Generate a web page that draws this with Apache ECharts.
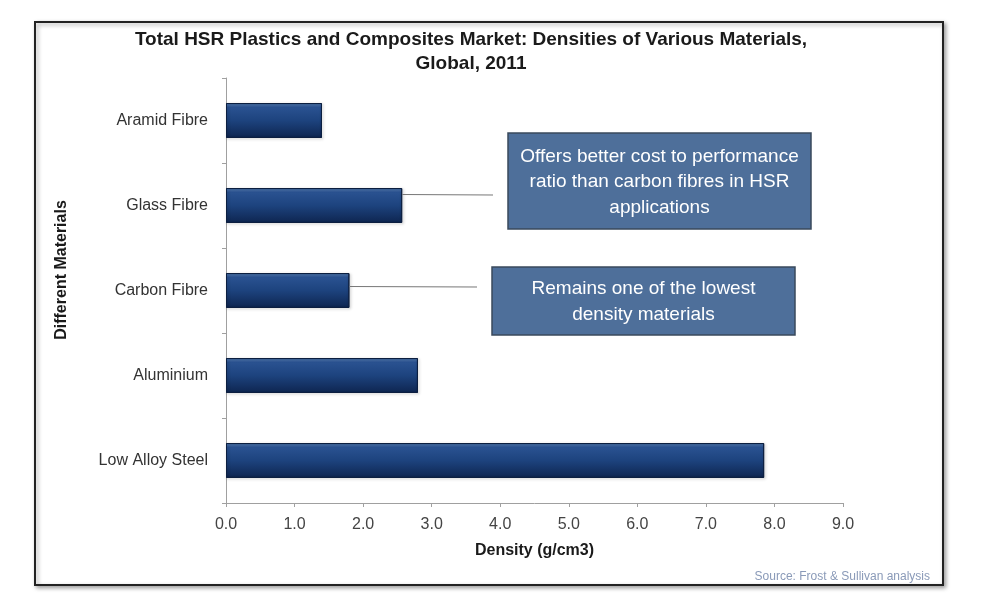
<!DOCTYPE html>
<html><head><meta charset="utf-8">
<script src="https://cdn.jsdelivr.net/npm/echarts@6/dist/echarts.min.js"></script>
<style>html,body{margin:0;padding:0;background:#fff}#c{width:985px;height:599px}</style>
</head><body><div id="c"></div>
<script>
const categories = ['Low Alloy Steel', 'Aluminium', 'Carbon Fibre', 'Glass Fibre', 'Aramid Fibre'];
const densities = [7.85, 2.8, 1.8, 2.57, 1.4];
const xTicks = [0, 1, 2, 3, 4, 5, 6, 7, 8, 9];
const titleText = 'Total HSR Plastics and Composites Market: Densities of Various Materials,\nGlobal, 2011';
const xName = 'Density (g/cm3)';
const yName = 'Different Materials';
const sourceText = 'Source: Frost & Sullivan analysis';
const notes = [
  {cat: 'Glass Fibre', text: 'Offers better cost to performance\nratio than carbon fibres in HSR\napplications'},
  {cat: 'Carbon Fibre', text: 'Remains one of the lowest\ndensity materials'}
];

const chart = echarts.init(document.getElementById('c'), null, {renderer: 'canvas'});
const F = 'Liberation Sans, Arial, sans-serif';
const option = {
  animation: false,
  backgroundColor: '#fff',
  title: {
    text: titleText, left: 466, top: 23, textAlign: 'center',
    textStyle: {fontFamily: F, fontSize: 19, fontWeight: 'bold', color: '#1a1a1a', lineHeight: 24}
  },
  grid: {left: 226, right: 142, top: 78, bottom: 96},
  xAxis: {
    type: 'value', min: 0, max: 9, interval: 1,
    name: xName, nameLocation: 'middle', nameGap: 40,
    nameTextStyle: {fontFamily: F, fontSize: 16, fontWeight: 'bold', color: '#1a1a1a'},
    axisLine: {show: true, lineStyle: {color: '#a0a0a0'}},
    axisTick: {show: true, length: 4, lineStyle: {color: '#a0a0a0'}},
    splitLine: {show: false},
    axisLabel: {fontFamily: F, fontSize: 16, color: '#444', margin: 14,
      formatter: v => xTicks.includes(v) ? v.toFixed(1) : ''}
  },
  yAxis: {
    type: 'category', data: categories,
    axisLine: {show: true, lineStyle: {color: '#a0a0a0'}},
    axisTick: {show: true, length: 4, lineStyle: {color: '#a0a0a0'}},
    axisLabel: {fontFamily: F, fontSize: 16, color: '#333', margin: 18}
  },
  series: [{
    type: 'bar', data: densities, barCategoryGap: '59%',
    itemStyle: {
      borderColor: '#0c1f40', borderWidth: 1,
      color: new echarts.graphic.LinearGradient(0, 0, 0, 1, [
        {offset: 0, color: '#5c86c0'},
        {offset: 0.12, color: '#2a5291'},
        {offset: 0.5, color: '#1d437e'},
        {offset: 1, color: '#0e2550'}
      ]),
      shadowColor: 'rgba(0,0,0,0.3)', shadowBlur: 3, shadowOffsetX: 1, shadowOffsetY: 1
    }
  }]
};
chart.setOption(option);

// annotation boxes and connectors
const boxes = [
  {x: 508, y: 133, w: 303, h: 96, lineEnd: [493, 195], dy: -11},
  {x: 492, y: 267, w: 303, h: 68, lineEnd: [477, 287], dy: -4}
];
const g = [{
  type: 'rect', shape: {x: 35, y: 22, width: 908, height: 563}, z: -1,
  style: {fill: '#fff', stroke: '#222', lineWidth: 2, shadowColor: 'rgba(0,0,0,0.35)', shadowBlur: 4, shadowOffsetX: 2, shadowOffsetY: 2}
}, {
  type: 'text', x: 62, y: 270, rotation: Math.PI / 2,
  style: {text: yName, fill: '#1a1a1a', font: 'bold 16px ' + F, align: 'center', verticalAlign: 'middle'}
}];
notes.forEach((n, i) => {
  const b = boxes[i];
  const idx = categories.indexOf(n.cat);
  const p = chart.convertToPixel({gridIndex: 0}, [densities[idx], idx]);
  g.push({type: 'line', shape: {x1: p[0], y1: p[1] + b.dy, x2: b.lineEnd[0], y2: b.lineEnd[1]}, style: {stroke: '#777', lineWidth: 1}, z: 10});
  g.push({type: 'rect', shape: {x: b.x, y: b.y, width: b.w, height: b.h},
    style: {fill: '#4e6f9a', stroke: '#3a4a5c', lineWidth: 1.5}, z: 10});
  g.push({type: 'text', x: b.x + b.w / 2, y: b.y + b.h / 2 + 1, z: 11,
    style: {text: n.text, fill: '#fff', font: '19px ' + F, align: 'center', verticalAlign: 'middle', lineHeight: 25.5}});
});
g.push({type: 'text', x: 930, y: 577, style: {text: sourceText, fill: '#8a9ab8', font: '12px ' + F, align: 'right', verticalAlign: 'middle'}});
chart.setOption({graphic: g});
</script></body></html>
